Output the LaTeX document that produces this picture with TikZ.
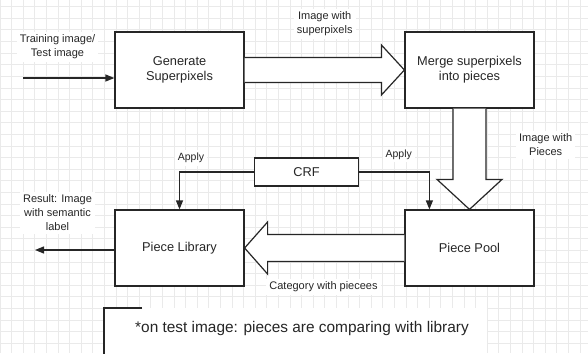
\documentclass[tikz,border=0pt]{standalone}
\usepackage{fontspec}
\setmainfont{Liberation Sans}
\usetikzlibrary{arrows.meta,calc}
\definecolor{ink}{HTML}{262626}
\definecolor{gridc}{HTML}{EAEAEA}
\tikzset{
  stepbox/.style={draw=ink, line width=1.2pt, fill=white, minimum width=129pt, minimum height=76pt, align=center, text=ink, font=\fontsize{12.8}{15}\selectfont},
  crfbox/.style={draw=ink, line width=1.2pt, fill=white, minimum width=104pt, minimum height=28pt, text=ink, font=\fontsize{12.8}{15}\selectfont},
  lbl/.style={fill=white, align=center, text=ink, inner sep=3pt, font=\fontsize{11}{14}\selectfont},
  hollow/.style={draw=ink, line width=1.2pt, fill=white, line join=miter},
  thinarrow/.style={draw=ink, line width=1.2pt, -{Triangle[length=9pt,width=7pt]}},
}
\begin{document}
\begin{tikzpicture}[x=1pt,y=-1pt]
\useasboundingbox (0,0) rectangle (588,353);
\fill[white] (0,0) rectangle (588,353);
% grid
\foreach \i in {0,...,51} {\draw[gridc, line width=0.8pt] ({\i*11.6},0) -- ({\i*11.6},353);}
\foreach \j in {0,...,30} {\draw[gridc, line width=0.8pt] (0,{6.7+\j*11.6}) -- (588,{6.7+\j*11.6});}

% labels
\node[lbl] (lin) at (57.5,47) {Training image/\\Test image};
\node[lbl] (lsup) at (324.7,24) {Image with\\superpixels};
\node[lbl] (lpie) at (545.7,144.7) {Image with\\Pieces};
\node[lbl] (lres) at (57.5,213) {Result: Image\\with semantic\\label};
\node[lbl] (lcat) at (323.5,286.7) {Category with piecees};
\node[lbl, font=\fontsize{10.5}{13}\selectfont] (lap1) at (191,158) {Apply};
\node[lbl, font=\fontsize{10.5}{13}\selectfont] (lap2) at (398.7,154.5) {Apply};

% boxes
\node[stepbox] (gen) at (179.5,70) {Generate\\Superpixels};
\node[stepbox] (merge) at (469.5,70) {Merge superpixels\\into pieces};
\node[stepbox] (lib) at (179.5,248) {Piece Library};
\node[stepbox] (pool) at (469.5,248) {Piece Pool};
\node[crfbox] (crf) at (306.5,172) {CRF};

% hollow arrows
\draw[hollow] ($(gen.east)+(0,-12.5)$) -- ($(merge.west)+(-23,-12.5)$) -- ($(merge.west)+(-23,-25)$) -- (merge.west) -- ($(merge.west)+(-23,25)$) -- ($(merge.west)+(-23,12.5)$) -- ($(gen.east)+(0,12.5)$);
\draw[hollow] ($(merge.south)+(-16.5,0)$) -- ($(pool.north)+(-16.5,-30)$) -- ($(pool.north)+(-32.5,-30)$) -- (pool.north) -- ($(pool.north)+(32.5,-30)$) -- ($(pool.north)+(16.5,-30)$) -- ($(merge.south)+(16.5,0)$);
\draw[hollow] ($(pool.west)+(0,-13.5)$) -- ($(lib.east)+(23,-13.5)$) -- ($(lib.east)+(23,-26)$) -- (lib.east) -- ($(lib.east)+(23,26)$) -- ($(lib.east)+(23,13.5)$) -- ($(pool.west)+(0,13.5)$);

% thin arrows
\coordinate (in) at (23,78);
\coordinate (out) at (35,250);
\coordinate (pooltop) at ($(pool.north west)+(25,0)$);
\draw[thinarrow] (in) -- (gen.west |- in);
\draw[thinarrow] (lib.west |- out) -- (out);
\draw[thinarrow] (crf.west) -| (lib.north);
\draw[thinarrow] (crf.east) -| (pooltop);

% note
\fill[white] (104,308) rectangle (487,353);
\coordinate (nt) at (142,308);
\coordinate (nb) at (104,354);
\draw[ink, line width=1.2pt] (nt) -- (nb |- nt) -- (nb);
\node[text=ink, font=\fontsize{15.4}{18}\selectfont] (note) at (302,329) {*on test image: pieces are comparing with library};
\end{tikzpicture}
\end{document}
